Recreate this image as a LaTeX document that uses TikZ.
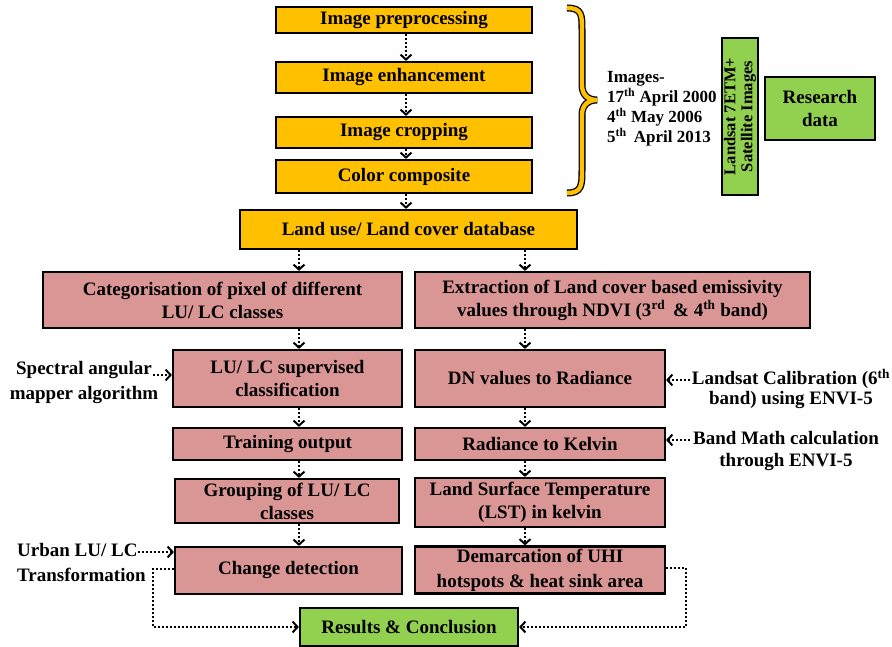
\documentclass[tikz,border=0pt]{standalone}
\usepackage{fontspec}
\setmainfont{Liberation Serif}
\usetikzlibrary{arrows.meta}
\definecolor{myorange}{HTML}{FFC000}
\definecolor{mypink}{HTML}{D99694}
\definecolor{mygreen}{HTML}{92D050}
\begin{document}
\begin{tikzpicture}[x=1pt,y=-1pt,
  box/.style={draw, line width=2.2pt, inner sep=0pt, align=center, font=\bfseries\fontsize{19}{23}\selectfont},
  ybox/.style={box, fill=myorange},
  pbox/.style={box, fill=mypink},
  gbox/.style={box, fill=mygreen},
  dl/.style={line width=2pt, dash pattern=on 2pt off 2pt},
  darr/.style={dl, -{Straight Barb[length=5pt,width=11pt]}},
  side/.style={inner sep=0pt, align=center},
]
\useasboundingbox (0,0) rectangle (892,647);
% top stack
\node[ybox, minimum width=256pt, minimum height=26pt] (pre) at (404,20) {Image preprocessing};
\node[ybox, minimum width=256pt, minimum height=31pt] (enh) at (404,77.5) {Image enhancement};
\node[ybox, minimum width=256pt, minimum height=31pt] (crop) at (404,132.5) {Image cropping};
\node[ybox, minimum width=256pt, minimum height=33pt] (col) at (404,176.5) {Color composite};
\node[ybox, minimum width=337pt, minimum height=39pt] (db) at (408.5,229.5) {Land use/ Land cover database};
% brace
\draw[line width=7pt] (567,8) .. controls (582,8) and (582,15) .. (582,30) -- (582,85) .. controls (582,95) and (588,100) .. (597,100) .. controls (588,100) and (582,105) .. (582,115) -- (582,170) .. controls (582,185) and (582,193) .. (567,193);
\draw[line width=4.4pt, myorange] (567,8) .. controls (582,8) and (582,15) .. (582,30) -- (582,85) .. controls (582,95) and (588,100) .. (597,100) .. controls (588,100) and (582,105) .. (582,115) -- (582,170) .. controls (582,185) and (582,193) .. (567,193);
\node[side, anchor=west, align=left, font=\bfseries\fontsize{17}{20}\selectfont] (imgs) at (607,109) {Images-\\17\textsuperscript{th} April 2000\\4\textsuperscript{th} May 2006\\5\textsuperscript{th}\, April 2013};
\node[gbox, rotate=90, minimum width=157pt, minimum height=36pt, font=\bfseries\fontsize{16.5}{17}\selectfont] (ls) at (740,116.5) {Landsat 7ETM+\\Satellite Images};
\node[gbox, minimum width=110pt, minimum height=63pt] (rd) at (820,108.5) {Research\\data};
% pink rows
\node[pbox, minimum width=359pt, minimum height=56pt] (cat) at (222.5,300) {Categorisation of pixel of different\\LU/ LC classes};
\node[pbox, minimum width=395pt, minimum height=56pt] (ext) at (612.5,300) {Extraction of Land cover based emissivity\\values through NDVI (3\textsuperscript{rd}\, \& 4\textsuperscript{th} band)};
\node[pbox, minimum width=229pt, minimum height=57pt] (lus) at (287.5,378.5) {LU/ LC supervised\\classification};
\node[pbox, minimum width=250pt, minimum height=57pt] (dn) at (540,378.5) {DN values to Radiance};
\node[pbox, minimum width=229pt, minimum height=32pt] (tr) at (287.5,444) {Training output};
\node[pbox, minimum width=250pt, minimum height=32pt] (rk) at (540,444) {Radiance to Kelvin};
\node[pbox, minimum width=224pt, minimum height=44pt] (grp) at (287,501) {Grouping of LU/ LC\\classes};
\node[pbox, minimum width=250pt, minimum height=49pt] (lst) at (540,502.5) {Land Surface Temperature\\(LST) in kelvin};
\node[pbox, minimum width=227pt, minimum height=47pt] (chg) at (288.5,570.5) {Change detection};
\node[pbox, minimum width=250pt, minimum height=47pt, font=\bfseries\fontsize{19}{25}\selectfont] (dem) at (540,570) {Demarcation of UHI\\hotspots \& heat sink area};
\node[gbox, minimum width=218pt, minimum height=38pt] (res) at (409,627) {Results \& Conclusion};
% side texts
\node[side, font=\bfseries\fontsize{19}{25}\selectfont] (spec) at (84,382.5) {Spectral angular\\mapper algorithm};
\node[side, font=\bfseries\fontsize{19}{20}\selectfont] (cal) at (791,389) {Landsat Calibration (6\textsuperscript{th}\\band) using ENVI-5};
\node[side, font=\bfseries\fontsize{19}{22}\selectfont] (bm) at (786,451) {Band Math calculation\\through ENVI-5};
\node[side, anchor=west, align=left, font=\bfseries\fontsize{19}{25}\selectfont] (urb) at (17,562.5) {Urban LU/ LC\\Transformation};
% coordinates
\coordinate (c0) at (406,0);
\coordinate (c1) at (299,0);
\coordinate (c2) at (525,0);
\coordinate (c3) at (153,0);
\coordinate (c4) at (686,0);
\coordinate (s1) at (153,375);
\coordinate (l1) at (690,380);
\coordinate (b1) at (690,440);
\coordinate (u1) at (138,552);
% vertical arrows
\draw[darr] (c0 |- pre.south) -- (c0 |- enh.north);
\draw[darr] (c0 |- enh.south) -- (c0 |- crop.north);
\draw[darr] (c0 |- crop.south) -- (c0 |- col.north);
\draw[darr] (c0 |- col.south) -- (c0 |- db.north);
\draw[darr] (c1 |- db.south) -- (c1 |- cat.north);
\draw[darr] (c2 |- db.south) -- (c2 |- ext.north);
\draw[darr] (c1 |- cat.south) -- (c1 |- lus.north);
\draw[darr] (c1 |- lus.south) -- (c1 |- tr.north);
\draw[darr] (c1 |- tr.south) -- (c1 |- grp.north);
\draw[darr] (c1 |- grp.south) -- (c1 |- chg.north);
\draw[darr] (c2 |- ext.south) -- (c2 |- dn.north);
\draw[darr] (c2 |- dn.south) -- (c2 |- rk.north);
\draw[darr] (c2 |- rk.south) -- (c2 |- lst.north);
\draw[darr] (c2 |- lst.south) -- (c2 |- dem.north);
% side arrows
\draw[darr] (s1) -- (s1 -| lus.west);
\draw[darr] (l1) -- (l1 -| dn.east);
\draw[darr] (b1) -- (b1 -| rk.east);
\draw[darr] (u1) -- (u1 -| chg.west);
\draw[darr] ([yshift=2pt]chg.west) -- ([yshift=2pt]chg.west -| c3) -- (c3 |- res.west) -- (res.west);
\draw[darr] ([yshift=2pt]dem.east) -- ([yshift=2pt]dem.east -| c4) -- (c4 |- res.east) -- (res.east);
\end{tikzpicture}
\end{document}
